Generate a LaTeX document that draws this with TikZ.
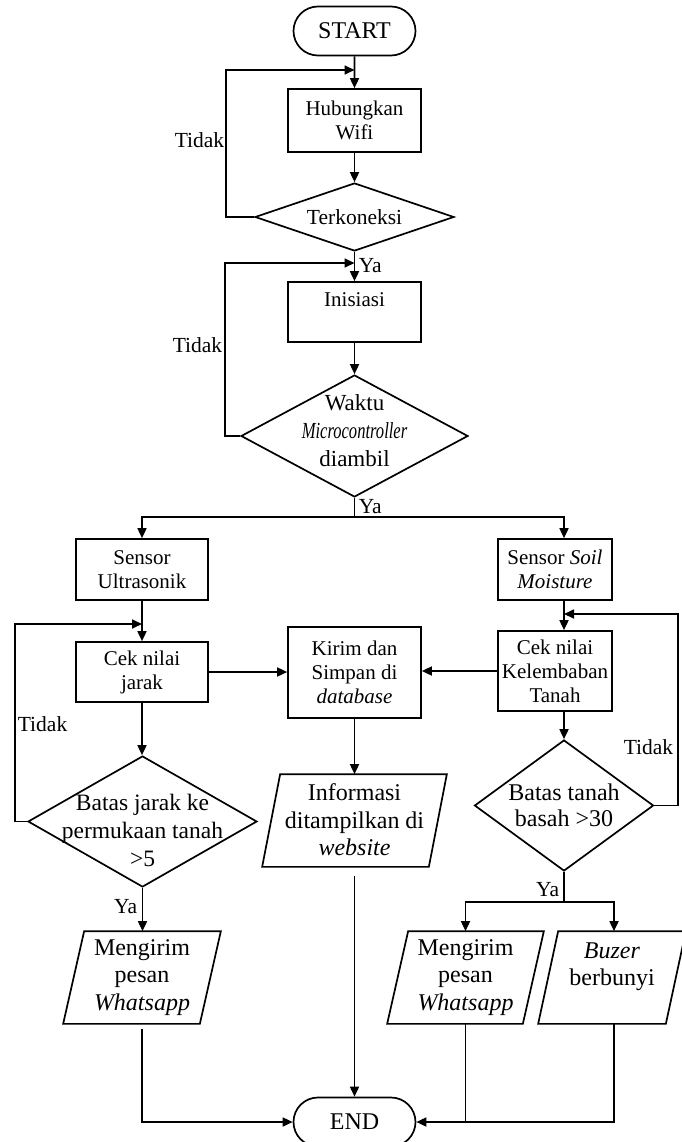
\documentclass[tikz,border=0pt]{standalone}
\usepackage{fontspec}
\usepackage{graphicx}
\setmainfont{Liberation Serif}
\usetikzlibrary{shapes.geometric,shapes.misc,arrows.meta}
\newcommand{\pgram}[2]{\draw ([xshift=#2pt]#1.north west) -- (#1.north east) -- ([xshift=-#2pt]#1.south east) -- (#1.south west) -- cycle;}
\begin{document}
\begin{tikzpicture}[x=1pt,y=-1pt,
  line width=1.7pt,
  arr/.style={-{Triangle[length=10pt,width=9pt]}},
  box/.style={draw,rectangle,inner sep=0pt,align=center,font=\fontsize{21}{24}\selectfont},
  term/.style={draw,rounded rectangle,minimum width=122pt,minimum height=49pt,inner sep=0pt,font=\fontsize{24}{27}\selectfont},
  dia/.style={draw,diamond,inner sep=0pt},
  txt/.style={align=center,inner sep=0pt,font=\fontsize{23}{28}\selectfont},
  ptxt/.style={align=center,inner sep=0pt,font=\fontsize{24}{27.5}\selectfont},
  lbl/.style={inner sep=1pt,font=\fontsize{21.5}{24}\selectfont},
  pbox/.style={rectangle,inner sep=0pt,minimum height=91pt,align=center,font=\fontsize{24}{27.5}\selectfont}
]
\useasboundingbox (0,0) rectangle (681,1142);

% nodes
\node[term] (start) at (354.5,31) {START};
\node[box,minimum width=133pt,minimum height=63pt] (h1) at (354.5,120.5) {Hubungkan\\Wifi};
\node[dia,minimum width=199pt,minimum height=68pt] (d1) at (354.5,217) {};
\node[txt,font=\fontsize{21.5}{25}\selectfont] (d1t) at (354.5,217) {Terkoneksi};
\node[box,minimum width=133pt,minimum height=60pt] (ini) at (354.5,312) {};
\node[txt,font=\fontsize{21}{24}\selectfont] (init) at (354.5,300) {Inisiasi};
\node[dia,minimum width=227pt,minimum height=122pt] (d2) at (354.5,436) {};
\node[txt] (d2t) at (354.5,431) {Waktu\\\scalebox{0.72}[1]{\itshape Microcontroller}\\diambil};

\node[box,minimum width=132pt,minimum height=61pt] (su) at (142,569.5) {Sensor\\Ultrasonik};
\node[box,minimum width=132pt,minimum height=60pt] (cj) at (142,672) {Cek nilai\\jarak};
\node[box,minimum width=133pt,minimum height=91pt] (kd) at (354.5,672.5) {Kirim dan\\Simpan di\\\textit{database}};
\node[box,minimum width=114pt,minimum height=61pt] (sm) at (555,569.5) {Sensor \textit{Soil}\\\textit{Moisture}};
\node[box,minimum width=114pt,minimum height=80pt] (ck) at (555,671) {Cek nilai\\Kelembaban\\Tanah};

\node[dia,minimum width=229pt,minimum height=131pt] (d3) at (142.5,821.5) {};
\node[txt,font=\fontsize{23.5}{28}\selectfont] (d3t) at (142.5,830) {Batas jarak ke\\permukaan tanah\\>5};
\node[pbox,minimum width=183pt] (info) at (354.5,820.5) {};
\node[ptxt] (infot) at (354.5,820) {Informasi\\ditampilkan di\\\textit{website}};
\node[dia,minimum width=179pt,minimum height=131pt] (d4) at (564,805.5) {};
\node[txt,font=\fontsize{24}{26}\selectfont] (d4t) at (564,805) {Batas tanah\\basah >30};

\node[pbox,minimum width=156pt] (m1) at (142,977.5) {Mengirim\\pesan\\\textit{Whatsapp}};
\node[pbox,minimum width=155pt] (m2) at (465.5,977.5) {Mengirim\\pesan\\\textit{Whatsapp}};
\node[pbox,minimum width=146pt] (bz) at (612,977.5) {};
\node[ptxt] (bzt) at (612,966.5) {\textit{Buzer}\\berbunyi};

\node[term] (end) at (354.5,1122) {END};

\pgram{info}{18}
\pgram{m1}{21}
\pgram{m2}{21}
\pgram{bz}{20}

% coordinates
\coordinate (l1a) at (226,217);
\coordinate (l1b) at (226,70);
\coordinate (l1c) at (354.5,70);
\coordinate (l2a) at (225,436);
\coordinate (l2b) at (225,263);
\coordinate (l2c) at (354.5,263);
\coordinate (br1) at (354.5,517);
\coordinate (l3a) at (15,821.5);
\coordinate (l3b) at (15,624);
\coordinate (l3c) at (142,624);
\coordinate (l4a) at (678,805.5);
\coordinate (l4b) at (678,614);
\coordinate (l4c) at (564,614);
\coordinate (br2) at (564,902);

% connectors
\draw[arr] (start) -- (h1);
\draw[arr] (h1) -- (d1);
\draw[arr] (d1.west) -- (l1a) -- (l1b) -- (l1c);
\draw[arr] (d1) -- (ini);
\draw[arr] (ini) -- (d2);
\draw[arr] (d2.west) -- (l2a) -- (l2b) -- (l2c);
\draw (d2.south) -- (br1);
\draw[arr] (br1) -| (su.north);
\draw[arr] (br1) -| ([xshift=9pt]sm.north);
\draw[arr] (su) -- (cj);
\draw[arr] (cj.east) -- (cj.east -| kd.west);
\draw[arr] (ck.west) -- (ck.west -| kd.east);
\draw[arr] (cj.south) -- (cj.south |- d3.north);
\draw[arr] (d3.west) -- (l3a) -- (l3b) -- (l3c);
\draw[arr] (kd) -- (info);
\draw[arr] (d3.south) -- (d3.south |- m1.north);
\draw[arr] ([yshift=-5pt]m1.south) |- (end.west);
\draw[arr] ([yshift=-9pt]info.south) -- (end.north);
\draw[arr] (sm.south -| d4.north) -- (ck.north -| d4.north);
\draw[arr] (ck.south -| d4.north) -- (d4.north);
\draw[arr] (d4.east) -- (l4a) -- (l4b) -- (l4c);
\draw (d4.south) -- (br2);
\draw[arr] (br2) -| (m2.north);
\draw[arr] (br2) -| ([xshift=2pt]bz.north);
\draw (m2.south) -- (m2.south |- end.east);
\draw[arr] ([xshift=2pt]bz.south) |- (end.east);

% labels
\node[lbl,anchor=east] (td1) at (226,140) {Tidak};
\node[lbl,anchor=east] (td2) at (224,345) {Tidak};
\node[lbl,anchor=west] (td3) at (16,724) {Tidak};
\node[lbl,anchor=east] (td4) at (675,747) {Tidak};
\node[lbl,anchor=west] (ya1) at (357,266) {Ya};
\node[lbl,anchor=west] (ya2) at (357,507) {Ya};
\node[lbl,anchor=east] (ya3) at (139,907) {Ya};
\node[lbl,anchor=east] (ya4) at (561,890) {Ya};
\end{tikzpicture}
\end{document}
